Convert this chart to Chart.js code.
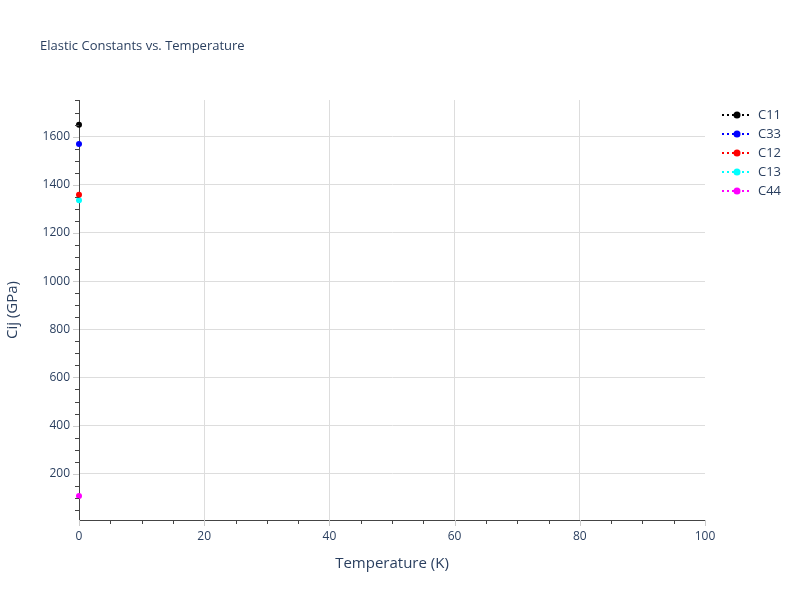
<!DOCTYPE html>
<html lang="en">
<head>
    <meta charset="UTF-8">
    <title>Elastic Constants vs. Temperature</title>
    <script src="https://cdn.jsdelivr.net/npm/chart.js"></script>
    <style>
        body { margin: 0; background: #fff; }
        #wrap { width: 800px; height: 600px; position: relative; }
    </style>
</head>
<body>
    <div id="wrap"><canvas id="myChart"></canvas></div>
    <script>
        // data
        const temps = [0];
        const c11 = [1649];
        const c33 = [1569];
        const c12 = [1359];
        const c13 = [1336];
        const c44 = [108];
        const seriesNames = ['C11', 'C33', 'C12', 'C13', 'C44'];
        const seriesColors = ['#000000', '#0000ff', '#ff0000', '#00ffff', '#ff00ff'];
        const yTicks = [200, 400, 600, 800, 1000, 1200, 1400, 1600];
        const xTicks = [0, 20, 40, 60, 80, 100];

        const FONT = '"Open Sans", "Noto Sans", sans-serif';
        const TXT = '#2a3f5f';

        const allSeries = [c11, c33, c12, c13, c44];
        const datasets = allSeries.map((vals, i) => ({
            label: seriesNames[i],
            data: temps.map((t, j) => ({x: t, y: vals[j]})),
            borderColor: seriesColors[i],
            backgroundColor: seriesColors[i],
            borderDash: [2, 3],
            borderWidth: 2,
            pointRadius: 3,
            pointBorderWidth: 0,
            showLine: true,
            clip: false
        }));

        // title, axis ticks and legend
        const extras = {
            id: 'extras',
            afterDraw(chart) {
                const ctx = chart.ctx;
                const xs = chart.scales.x, ys = chart.scales.y;
                const area = chart.chartArea;
                ctx.save();
                ctx.font = '13px ' + FONT;
                ctx.fillStyle = TXT;
                ctx.textBaseline = 'middle';
                ctx.textAlign = 'left';
                ctx.fillText('Elastic Constants vs. Temperature', 40, 46);

                // y ticks
                ctx.lineWidth = 1;
                for (let v = 50; v <= 1750; v += 50) {
                    const py = Math.round(ys.getPixelForValue(v)) + 0.5;
                    if (py < area.top - 1 || py > area.bottom) continue;
                    const major = v % 200 === 0;
                    ctx.strokeStyle = major ? '#cccccc' : '#444444';
                    ctx.beginPath();
                    ctx.moveTo(area.left, py);
                    ctx.lineTo(area.left - (major ? 6 : 4), py);
                    ctx.stroke();
                }
                // x ticks
                for (let v = 0; v <= 100; v += 5) {
                    const px = Math.round(xs.getPixelForValue(v)) + 0.5;
                    const major = v % 20 === 0;
                    ctx.strokeStyle = major ? '#cccccc' : '#444444';
                    ctx.beginPath();
                    ctx.moveTo(px, area.bottom);
                    ctx.lineTo(px, area.bottom + (major ? 6 : 4));
                    ctx.stroke();
                }

                // legend
                ctx.font = '13px ' + FONT;
                seriesNames.forEach((name, i) => {
                    const ly = 115 + i * 19;
                    ctx.strokeStyle = seriesColors[i];
                    ctx.fillStyle = seriesColors[i];
                    ctx.lineWidth = 2;
                    ctx.setLineDash([2, 3]);
                    ctx.beginPath();
                    ctx.moveTo(722, ly);
                    ctx.lineTo(752, ly);
                    ctx.stroke();
                    ctx.setLineDash([]);
                    ctx.beginPath();
                    ctx.arc(737, ly, 3.5, 0, Math.PI * 2);
                    ctx.fill();
                    ctx.fillStyle = TXT;
                    ctx.fillText(name, 758, ly);
                });
                ctx.restore();
            }
        };

        const config = {
            type: 'scatter',
            data: {datasets: datasets},
            options: {
                responsive: true,
                maintainAspectRatio: false,
                animation: false,
                layout: {padding: {left: 0, right: 95, top: 100, bottom: 23}},
                plugins: {
                    legend: {display: false},
                    title: {display: false},
                    tooltip: {enabled: false}
                },
                scales: {
                    x: {
                        type: 'linear',
                        min: 0,
                        max: 100,
                        afterFit: s => { s.height = 57; },
                        afterBuildTicks: s => { s.ticks = xTicks.map(v => ({value: v})); },
                        border: {color: '#444444', width: 1},
                        grid: {
                            drawTicks: false,
                            color: c => (c.tick && (c.tick.value === 0 || c.tick.value === 100)) ? 'rgba(0,0,0,0)' : '#dddddd'
                        },
                        ticks: {padding: 9, color: TXT, font: {family: FONT, size: 12}, maxRotation: 0,
                                callback: v => String(v)},
                        title: {display: true, text: 'Temperature (K)', color: TXT, font: {family: FONT, size: 15}}
                    },
                    y: {
                        type: 'linear',
                        min: 8,
                        max: 1752,
                        afterFit: s => { s.width = 79; },
                        afterBuildTicks: s => { s.ticks = yTicks.map(v => ({value: v})); },
                        border: {color: '#444444', width: 1},
                        grid: {drawTicks: false, color: '#dddddd'},
                        ticks: {padding: 9, color: TXT, font: {family: FONT, size: 12},
                                callback: v => String(v)},
                        title: {display: true, text: 'Cij (GPa)', color: TXT, font: {family: FONT, size: 15}}
                    }
                }
            },
            plugins: [extras]
        };

        window.onload = function() {
            const ctx = document.getElementById('myChart').getContext('2d');
            new Chart(ctx, config);
        };
    </script>
</body>
</html>
